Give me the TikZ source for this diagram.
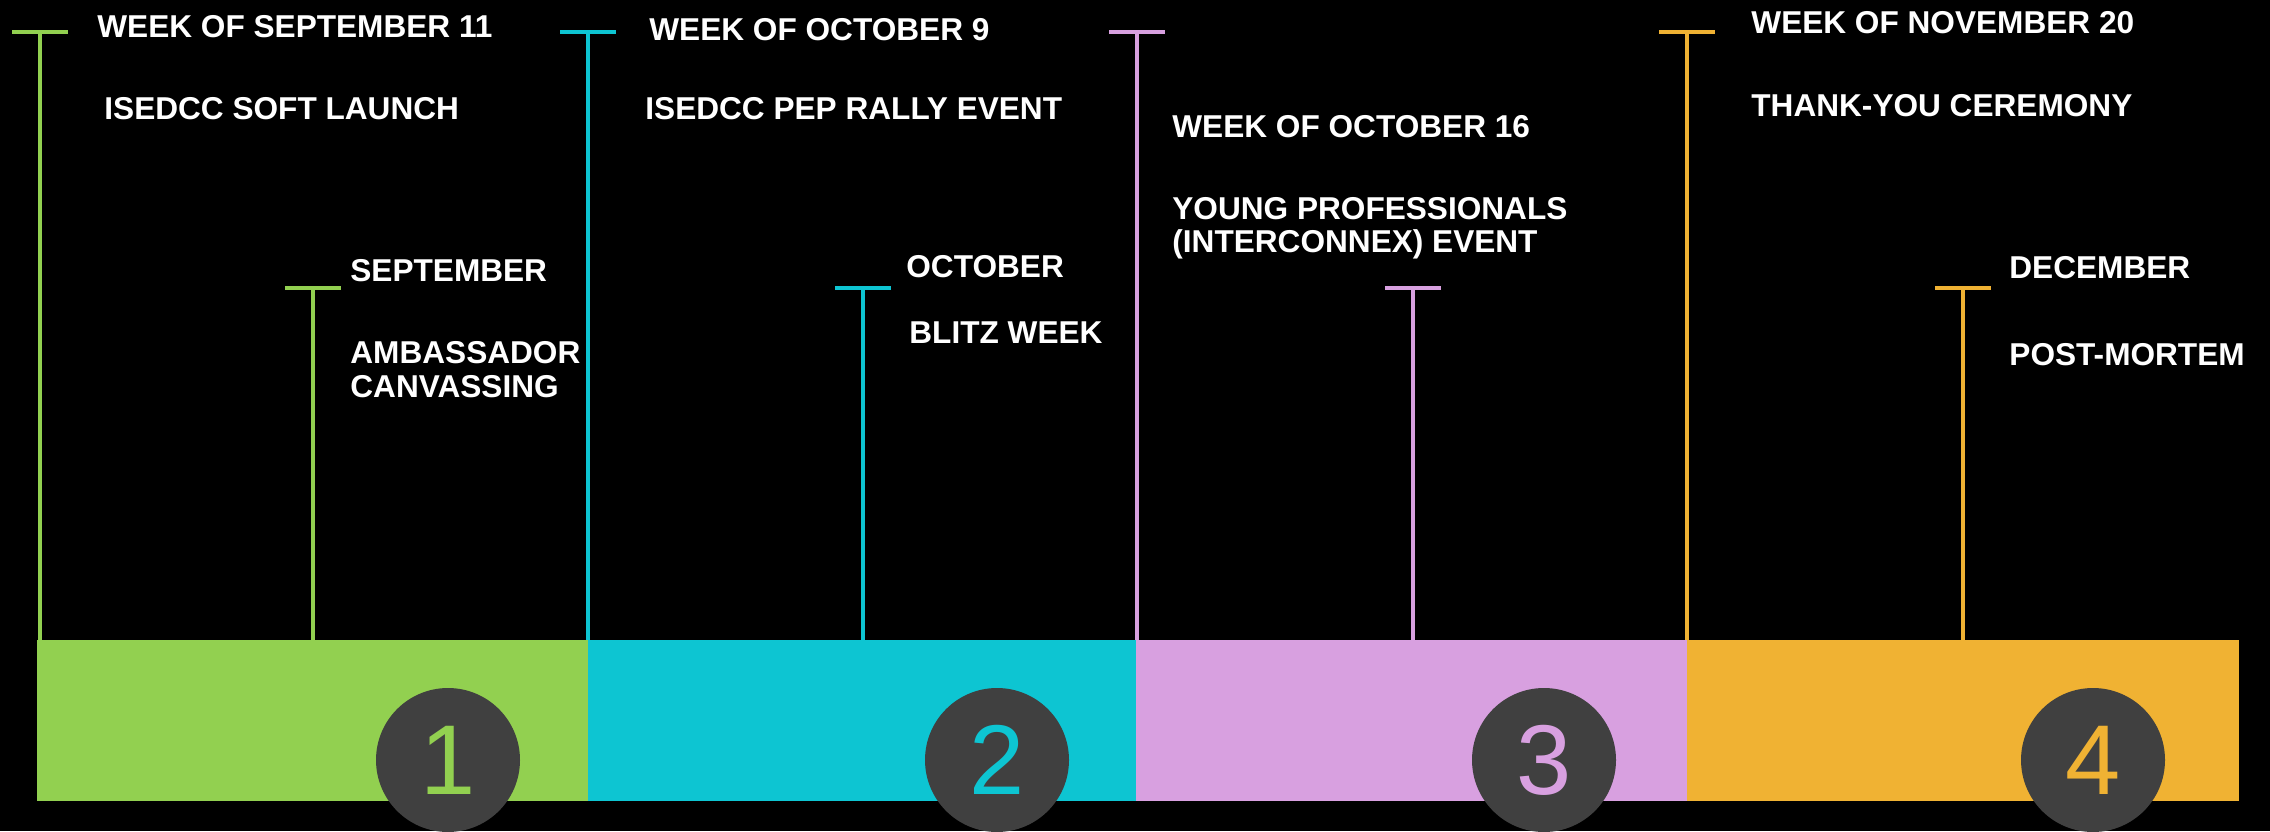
\documentclass[tikz,border=0pt]{standalone}
\usepackage{fontspec}
\setmainfont{Liberation Sans}
\definecolor{cgreen}{HTML}{92D050}
\definecolor{ccyan}{HTML}{0DC5D2}
\definecolor{cpurple}{HTML}{D8A0E0}
\definecolor{corange}{HTML}{F0B233}
\definecolor{cdisc}{HTML}{404040}
\tikzset{
  lbl/.style={anchor=base west, inner sep=0pt, text=white,
    font=\fontsize{15.8}{16.8}\selectfont\bfseries},
  tick/.style={line width=1.75pt},
  disc/.style={circle, fill=cdisc, minimum size=72pt, inner sep=0pt,
    font=\fontsize{49.6}{50}\selectfont},
}
\begin{document}
\begin{tikzpicture}[x=0.5pt,y=-0.5pt]
\fill[black] (0,0) rectangle (2270,831);
\useasboundingbox (0,0) rectangle (2270,831);
% bar segments
\fill[cgreen]  (37,640) rectangle (588,801);
\fill[ccyan]   (588,640) rectangle (1136,801);
\fill[cpurple] (1136,640) rectangle (1687,801);
\fill[corange] (1687,640) rectangle (2239,801);
% tick coordinates
\foreach \n/\x in {a/40,b/588,c/1137,d/1687}{
  \coordinate (\n top) at (\x,32);
  \coordinate (\n bot) at (\x,640);
  \coordinate (\n l) at (\x-28,32);
  \coordinate (\n r) at (\x+28,32);
}
\foreach \n/\x in {e/313,f/863,g/1413,h/1963}{
  \coordinate (\n top) at (\x,288);
  \coordinate (\n bot) at (\x,640);
  \coordinate (\n l) at (\x-28,288);
  \coordinate (\n r) at (\x+28,288);
}
\foreach \n/\c in {a/cgreen,e/cgreen,b/ccyan,f/ccyan,c/cpurple,g/cpurple,d/corange,h/corange}{
  \draw[tick,\c] (\n top) -- (\n bot);
  \draw[tick,\c] (\n l) -- (\n r);
}
% discs
\node[disc, text=cgreen]  (d1) at (448,760) {1};
\node[disc, text=ccyan]   (d2) at (997,760) {2};
\node[disc, text=cpurple] (d3) at (1544,760) {3};
\node[disc, text=corange] (d4) at (2093,760) {4};
% labels
\node[lbl] (t1a) at (97,37) {WEEK OF SEPTEMBER 11};
\node[lbl] (t1b) at (104,119) {ISEDCC SOFT LAUNCH};
\node[lbl] (t1c) at (350,281) {SEPTEMBER};
\node[lbl] (t1d) at (350,363) {AMBASSADOR};
\node[lbl] (t1e) at (350,397) {CANVASSING};
\node[lbl] (t2a) at (649,40) {WEEK OF OCTOBER 9};
\node[lbl] (t2b) at (645,119) {ISEDCC PEP RALLY EVENT};
\node[lbl] (t2c) at (906,277) {OCTOBER};
\node[lbl] (t2d) at (909,343) {BLITZ WEEK};
\node[lbl] (t3a) at (1172,137) {WEEK OF OCTOBER 16};
\node[lbl] (t3b) at (1172,219) {YOUNG PROFESSIONALS};
\node[lbl] (t3c) at (1172,252) {(INTERCONNEX) EVENT};
\node[lbl] (t4a) at (1751,33) {WEEK OF NOVEMBER 20};
\node[lbl] (t4b) at (1751,116) {THANK-YOU CEREMONY};
\node[lbl] (t4c) at (2009,278) {DECEMBER};
\node[lbl] (t4d) at (2009,365) {POST-MORTEM};
\end{tikzpicture}
\end{document}
